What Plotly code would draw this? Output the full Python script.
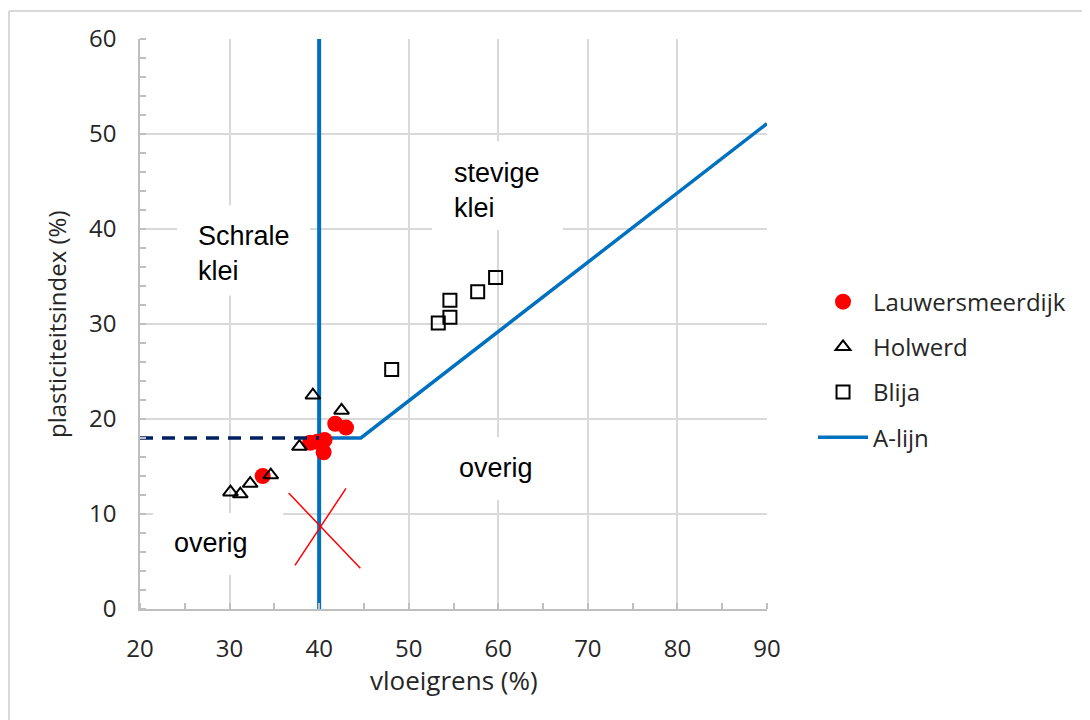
import plotly.graph_objects as go

# ---- data ----
lauw_x = [33.7, 39.0, 39.8, 40.6, 40.5, 41.8, 43.0]
lauw_y = [14.0, 17.5, 17.6, 17.8, 16.5, 19.5, 19.1]

holw_x = [30.1, 31.2, 32.3, 34.6, 37.8, 39.3, 42.5]
holw_y = [12.3, 12.1, 13.2, 14.1, 17.1, 22.5, 20.9]

blija_x = [48.1, 53.3, 54.6, 54.6, 57.7, 59.7]
blija_y = [25.2, 30.1, 30.7, 32.5, 33.4, 34.9]

alijn_x = [40, 44.66, 90]
alijn_y = [18, 18, 51.1]

vert_x = [40, 40]
vert_y = [0, 60]

dash_x = [20, 40]
dash_y = [18, 18]

cross1_x = [36.6, 44.6]
cross1_y = [12.2, 4.3]
cross2_x = [43.0, 37.3]
cross2_y = [12.7, 4.6]

x_ticks = [20, 30, 40, 50, 60, 70, 80, 90]
y_ticks = [0, 10, 20, 30, 40, 50, 60]

BLUE = "#0070C0"
NAVY = "#002060"
GRID = "#d9d9d9"
AXIS = "#bfbfbf"
TXT = "#262626"
TICKFONT = "Open Sans"
LABFONT = "Liberation Sans"

fig = go.Figure()

fig.add_trace(go.Scatter(x=vert_x, y=vert_y, mode="lines",
                         line=dict(color=BLUE, width=4), showlegend=False,
                         hoverinfo="skip"))
fig.add_trace(go.Scatter(x=alijn_x, y=alijn_y, mode="lines", name="A-lijn",
                         line=dict(color=BLUE, width=3.5), legendrank=4,
                         legendgroup="d"))
fig.add_trace(go.Scatter(x=lauw_x, y=lauw_y, mode="markers", name="Lauwersmeerdijk",
                         marker=dict(color="#ff0000", size=16, symbol="circle"),
                         legendrank=1, legendgroup="a"))
fig.add_trace(go.Scatter(x=holw_x, y=holw_y, mode="markers", name="Holwerd",
                         marker=dict(color="black", size=13, symbol="triangle-up-open",
                                     line=dict(width=2, color="black")),
                         legendrank=2, legendgroup="b"))
fig.add_trace(go.Scatter(x=blija_x, y=blija_y, mode="markers", name="Blija",
                         marker=dict(color="black", size=13, symbol="square-open",
                                     line=dict(width=2, color="black")),
                         legendrank=3, legendgroup="c"))
fig.add_trace(go.Scatter(x=dash_x, y=dash_y, mode="lines", showlegend=False,
                         line=dict(color=NAVY, width=3.5, dash="13px,9px"),
                         hoverinfo="skip"))
fig.add_trace(go.Scatter(x=cross1_x, y=cross1_y, mode="lines", showlegend=False,
                         line=dict(color="#ff0000", width=1.5), hoverinfo="skip"))
fig.add_trace(go.Scatter(x=cross2_x, y=cross2_y, mode="lines", showlegend=False,
                         line=dict(color="#ff0000", width=1.5), hoverinfo="skip"))

# white label boxes (between gridlines and traces)
boxes = [
    (24.13, 38.98, 33.0, 42.5),
    (52.6, 67.2, 39.9, 49.2),
    (52.9, 66.9, 11.5, 18.1),
    (21.45, 35.97, 3.6, 10.1),
]
for x0, x1, y0, y1 in boxes:
    fig.add_shape(type="rect", x0=x0, x1=x1, y0=y0, y1=y1, xref="x", yref="y",
                  fillcolor="white", line=dict(width=0), layer="between")

labels = [
    ("Schrale<br>klei", 26.25, 37.4),
    ("stevige<br>klei", 54.8, 44.05),
    ("overig", 55.4, 14.84),
    ("overig", 23.57, 6.95),
]
for t, x, y in labels:
    fig.add_annotation(text=t, x=x, y=y, xref="x", yref="y", showarrow=False,
                       xanchor="left", yanchor="middle", align="left",
                       font=dict(family=LABFONT, size=27, color="black"))

# axis titles
fig.add_annotation(text="plasticiteitsindex (%)", x=-0.134, y=0.5,
                   xref="paper", yref="paper", showarrow=False, textangle=-90,
                   xanchor="center", yanchor="middle",
                   font=dict(family=TICKFONT, size=24, color=TXT))
fig.add_annotation(text="vloeigrens (%)", x=0.5, y=-0.1246,
                   xref="paper", yref="paper", showarrow=False,
                   xanchor="center", yanchor="middle",
                   font=dict(family=TICKFONT, size=26, color=TXT))

# outer frame (left and top)
fig.add_shape(type="line", xref="paper", yref="paper", x0=-0.2089, x1=-0.2089,
              y0=-0.2, y1=1.049, line=dict(color=GRID, width=2))
fig.add_shape(type="line", xref="paper", yref="paper", x0=-0.2089, x1=1.6,
              y0=1.049, y1=1.049, line=dict(color=GRID, width=2))

fig.update_layout(
    width=1082, height=712,
    margin=dict(l=132, r=323, t=31, b=111),
    paper_bgcolor="white", plot_bgcolor="white",
    showlegend=True,
    legend=dict(x=1.0734, y=0.578, xanchor="left", yanchor="top",
                itemwidth=50,
                font=dict(family=TICKFONT, size=24, color=TXT),
                tracegroupgap=11, bgcolor="rgba(0,0,0,0)"),
    xaxis=dict(range=[20, 90], tickvals=x_ticks, showgrid=True, gridcolor=GRID,
               gridwidth=1.5, zeroline=False, showline=True, linecolor=AXIS,
               linewidth=1.5, ticks="", ticklabelstandoff=17,
               tickfont=dict(family=TICKFONT, size=24, color=TXT),
               minor=dict(dtick=5, ticks="inside", ticklen=6, tickcolor=AXIS,
                          tickwidth=1.5, showgrid=False)),
    yaxis=dict(range=[0, 60], tickvals=y_ticks, showgrid=True, gridcolor=GRID,
               gridwidth=1.5, zeroline=False, showline=True, linecolor=AXIS,
               linewidth=1.5, ticks="", ticklabelstandoff=17,
               tickfont=dict(family=TICKFONT, size=24, color=TXT),
               minor=dict(dtick=2, ticks="inside", ticklen=6, tickcolor=AXIS,
                          tickwidth=1.5, showgrid=False)),
)

fig.write_html("out.html")
